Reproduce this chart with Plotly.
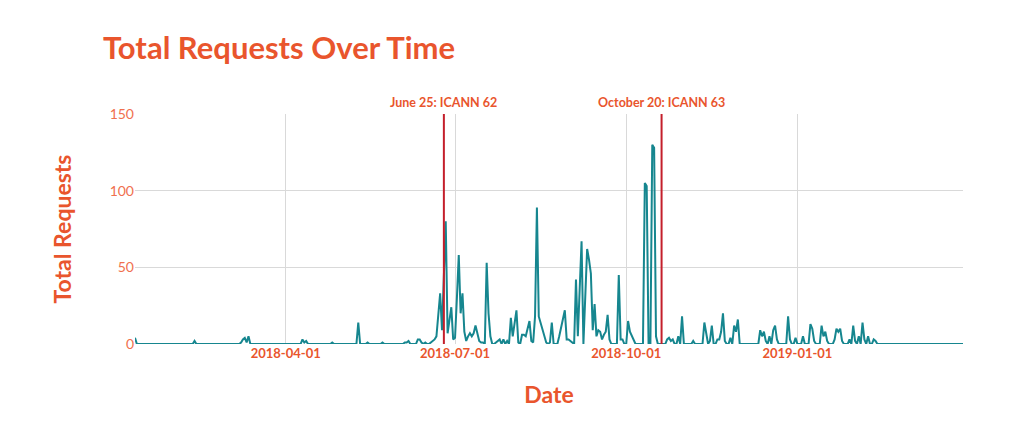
import pandas as pd
import plotly.graph_objects as go

# days with at least one request (all other days are 0)
req_dates = [
    "2018-01-10", "2018-02-11", "2018-03-08", "2018-03-09", "2018-03-10", "2018-03-11", "2018-03-12",
    "2018-04-10", "2018-04-11", "2018-04-12", "2018-04-26", "2018-05-10", "2018-05-15", "2018-05-23",
    "2018-06-04", "2018-06-05", "2018-06-06", "2018-06-11", "2018-06-12", "2018-06-13", "2018-06-15",
    "2018-06-18", "2018-06-19", "2018-06-20", "2018-06-21", "2018-06-22", "2018-06-23", "2018-06-24",
    "2018-06-25", "2018-06-26", "2018-06-27", "2018-06-28", "2018-06-29", "2018-06-30",
    "2018-07-01", "2018-07-02", "2018-07-03", "2018-07-04", "2018-07-05", "2018-07-06", "2018-07-07",
    "2018-07-08", "2018-07-09", "2018-07-10", "2018-07-11", "2018-07-12", "2018-07-13", "2018-07-14",
    "2018-07-15", "2018-07-16", "2018-07-18", "2018-07-19", "2018-07-20", "2018-07-23", "2018-07-24",
    "2018-07-25", "2018-07-27", "2018-07-29", "2018-07-31",
    "2018-08-01", "2018-08-02", "2018-08-03", "2018-08-04", "2018-08-06", "2018-08-07", "2018-08-08",
    "2018-08-09", "2018-08-10", "2018-08-11", "2018-08-12", "2018-08-13", "2018-08-14", "2018-08-15",
    "2018-08-16", "2018-08-17", "2018-08-18", "2018-08-19", "2018-08-21", "2018-08-22", "2018-08-26",
    "2018-08-27", "2018-08-28", "2018-08-29", "2018-08-30", "2018-08-31",
    "2018-09-01", "2018-09-02", "2018-09-04", "2018-09-05", "2018-09-06", "2018-09-07", "2018-09-09",
    "2018-09-10", "2018-09-11", "2018-09-12", "2018-09-13", "2018-09-14", "2018-09-15", "2018-09-16",
    "2018-09-17", "2018-09-18", "2018-09-19", "2018-09-20", "2018-09-21", "2018-09-22", "2018-09-27",
    "2018-09-28", "2018-09-29",
    "2018-10-02", "2018-10-03", "2018-10-04", "2018-10-05", "2018-10-11", "2018-10-12", "2018-10-15",
    "2018-10-16", "2018-10-17", "2018-10-23", "2018-10-24", "2018-10-25", "2018-10-26", "2018-10-29",
    "2018-10-31",
    "2018-11-06", "2018-11-12", "2018-11-13", "2018-11-15", "2018-11-16", "2018-11-19", "2018-11-20",
    "2018-11-21", "2018-11-22", "2018-11-23", "2018-11-26", "2018-11-28", "2018-11-29", "2018-11-30",
    "2018-12-12", "2018-12-13", "2018-12-14", "2018-12-15", "2018-12-17", "2018-12-19", "2018-12-20",
    "2018-12-21", "2018-12-27", "2018-12-28", "2018-12-31",
    "2019-01-04", "2019-01-08", "2019-01-09", "2019-01-10", "2019-01-14", "2019-01-15", "2019-01-16",
    "2019-01-17", "2019-01-21", "2019-01-22", "2019-01-23", "2019-01-24", "2019-01-25", "2019-01-29",
    "2019-01-31", "2019-02-01", "2019-02-03", "2019-02-05", "2019-02-06", "2019-02-08", "2019-02-11",
    "2019-02-12",
]
req_counts = [
    4, 2, 1, 3, 4, 1, 5,
    3, 1, 2, 1, 14, 1, 1,
    1, 1, 2, 3, 3, 1, 1,
    1, 2, 3, 5, 18, 33, 9,
    44, 80, 7, 15, 24, 3,
    4, 30, 58, 20, 33, 8, 2,
    5, 7, 5, 7, 12, 6, 2,
    1, 1, 53, 20, 5, 1, 2,
    3, 3, 2, 17,
    5, 13, 22, 1, 6, 6, 5,
    10, 15, 2, 1, 18, 89, 18,
    14, 10, 5, 1, 1, 14, 5,
    10, 16, 22, 3, 3,
    2, 1, 42, 5, 36, 67, 30,
    62, 55, 46, 9, 26, 5, 9,
    8, 3, 6, 8, 19, 3, 45,
    3, 3,
    15, 8, 5, 2, 105, 103, 130,
    128, 5, 3, 4, 2, 3, 5,
    18,
    2, 14, 8, 2, 12, 3, 3,
    8, 20, 2, 4, 12, 8, 16,
    9, 5, 8, 2, 5, 9, 12,
    3, 18, 3, 4,
    5, 13, 10, 2, 12, 5, 8,
    2, 3, 10, 8, 10, 2, 3,
    12, 2, 5, 14, 3, 5, 3,
    2,
]
first_day = "2018-01-10"
last_day = "2019-03-31"

event_dates = ["2018-06-25", "2018-10-20"]
event_labels = ["June 25: ICANN 62", "October 20: ICANN 63"]

ORANGE = "#e9552d"
TEAL = "#16868f"
RED = "#c41f2b"
FONT = "Lato"

s = pd.Series(req_counts, index=pd.to_datetime(req_dates))
days = pd.date_range(first_day, last_day, freq="D")
s = s.reindex(days, fill_value=0)

fig = go.Figure()
fig.add_trace(go.Scatter(
    x=s.index, y=s.values,
    mode="lines",
    line=dict(color=TEAL, width=2),
    hoverinfo="x+y",
    showlegend=False,
))

for d, label in zip(event_dates, event_labels):
    fig.add_shape(type="line", xref="x", yref="paper",
                  x0=d, x1=d, y0=0, y1=1,
                  line=dict(color=RED, width=2), layer="above")
    fig.add_annotation(x=d, y=1, xref="x", yref="paper",
                       text=f"<b>{label}</b>", showarrow=False,
                       yanchor="bottom", yshift=2,
                       font=dict(family=FONT, size=12.5, color=ORANGE))

# the page puts the plot 8px in from the top-left corner
fig.update_layout(
    width=1024, height=422,
    margin=dict(l=127, r=69, t=106, b=86),
    paper_bgcolor="white",
    plot_bgcolor="white",
    font=dict(family=FONT, color=ORANGE),
    title=dict(
        text="<b>Total Requests Over Time</b>",
        x=95 / 1024, xref="container", xanchor="left",
        y=1 - 40 / 422, yref="container", yanchor="middle",
        font=dict(family=FONT, size=31, color=ORANGE),
    ),
    xaxis=dict(
        title=dict(text="<b>Date</b>", font=dict(size=23, color=ORANGE), standoff=26),
        range=[first_day, last_day],
        tick0="2018-01-01", dtick="M3", tickformat="%Y-%m-%d",
        tickfont=dict(size=13, color=ORANGE, weight="bold"),
        showgrid=True, gridcolor="#d9d9d9", gridwidth=1,
        zeroline=False, showline=False,
    ),
    yaxis=dict(
        title=dict(text="<b>Total Requests</b>", font=dict(size=23, color=ORANGE), standoff=31),
        range=[0, 150], tickvals=[0, 50, 100, 150],
        tickfont=dict(size=14, color="#f0704e"),
        showgrid=True, gridcolor="#d9d9d9", gridwidth=1,
        zeroline=False, showline=False,
    ),
)

fig.write_html("out.html")
